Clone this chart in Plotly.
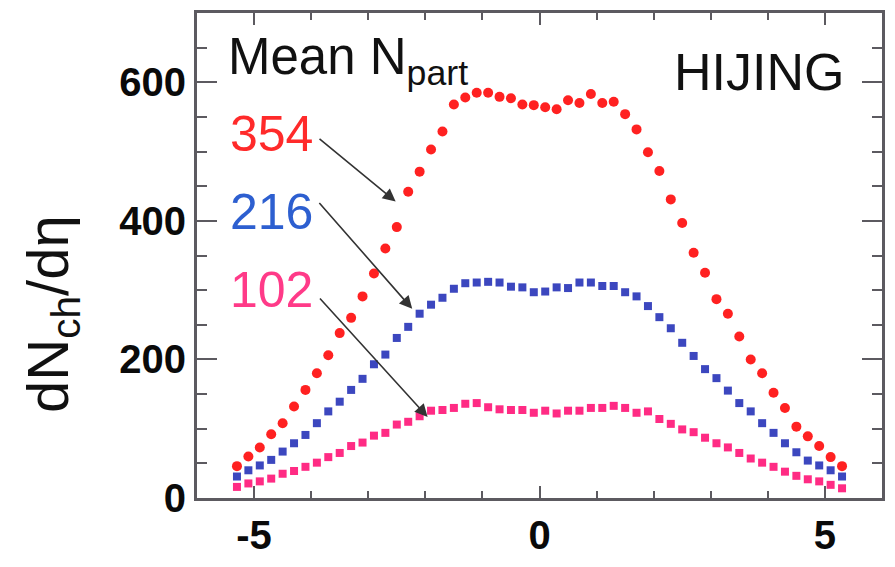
import plotly.graph_objects as go

eta = [-5.3, -5.1, -4.9, -4.7, -4.5, -4.3, -4.1, -3.9, -3.7, -3.5, -3.3, -3.1, -2.9, -2.7,
       -2.5, -2.3, -2.1, -1.9, -1.7, -1.5, -1.3, -1.1, -0.9, -0.7, -0.5, -0.3, -0.1,
       0.1, 0.3, 0.5, 0.7, 0.9, 1.1, 1.3, 1.5, 1.7, 1.9, 2.1, 2.3, 2.5, 2.7, 2.9, 3.1,
       3.3, 3.5, 3.7, 3.9, 4.1, 4.3, 4.5, 4.7, 4.9, 5.1, 5.3]

npart354 = [46, 60, 73, 92, 108, 132, 156, 180, 206, 238, 260, 291, 324, 360,
            391, 442, 471, 503, 529, 568, 578, 585, 585, 579, 577, 568, 567,
            564, 561, 574, 570, 583, 570, 572, 554, 532, 499, 472, 431, 397, 354, 325, 287,
            266, 233, 200, 180, 152, 130, 103, 89, 75, 59, 46]

npart216 = [31, 40, 47, 55, 67, 79, 91, 108, 125, 139, 156, 172, 193, 207,
            231, 247, 266, 279, 289, 302, 310, 311, 312, 311, 305, 304, 297,
            298, 304, 303, 311, 311, 306, 306, 297, 291, 277, 261, 245, 224, 205, 186, 173,
            155, 137, 125, 108, 94, 79, 66, 54, 47, 40, 31]

npart102 = [16, 21, 24, 28, 35, 39, 45, 51, 59, 65, 75, 80, 90, 94,
            106, 110, 118, 126, 127, 130, 136, 137, 131, 128, 127, 127, 123,
            126, 122, 126, 126, 130, 130, 133, 130, 123, 125, 114, 107, 99, 95, 87, 79,
            73, 65, 57, 51, 45, 38, 32, 27, 24, 19, 14]

x_ticks = [-5, 0, 5]
y_ticks = [0, 200, 400, 600]

FONT = "Liberation Sans, Arial, Helvetica, sans-serif"
AXC = "#5c5a60"

fig = go.Figure()
fig.add_trace(go.Scatter(x=eta, y=npart354, mode="markers",
                         marker=dict(color="#ff2121", size=10, symbol="circle"), name="354"))
fig.add_trace(go.Scatter(x=eta, y=npart216, mode="markers",
                         marker=dict(color="#3c47bf", size=8, symbol="square"), name="216"))
fig.add_trace(go.Scatter(x=eta, y=npart102, mode="markers",
                         marker=dict(color="#ff2b84", size=8, symbol="square"), name="102"))

axis_common = dict(showgrid=False, zeroline=False, showline=True, linecolor=AXC, linewidth=3,
                   mirror="ticks", ticks="inside", tickcolor=AXC, tickwidth=2,
                   tickfont=dict(family=FONT, size=40, color="#0a0a0a", weight="bold"))

fig.update_xaxes(range=[-6, 6], tickvals=x_ticks, ticktext=[str(v) for v in x_ticks],
                 ticklen=12, minor=dict(dtick=1, tick0=0, ticklen=7, tickwidth=2,
                                        tickcolor=AXC, ticks="inside"),
                 **axis_common)
fig.update_yaxes(range=[0, 700], tickvals=y_ticks, ticktext=[str(v) for v in y_ticks],
                 ticklen=20, minor=dict(dtick=50, tick0=0, ticklen=10, tickwidth=2,
                                        tickcolor=AXC, ticks="inside"),
                 **axis_common)

def txt(s, x, y, size, color, xanchor="left", yanchor="middle"):
    fig.add_annotation(text=s, x=x, y=y, xref="x", yref="y", showarrow=False,
                       xanchor=xanchor, yanchor=yanchor,
                       font=dict(family=FONT, size=size, color=color))

txt("Mean N<sub>part</sub>", -5.5, 632, 51, "#111")
txt("HIJING", 5.37, 615, 52, "#111", xanchor="right")
txt("354", -5.45, 526, 50, "#ff2a2a")
txt("216", -5.45, 413, 50, "#2d5fd0")
txt("102", -5.45, 300, 50, "#ff3a88")

arrows = [((-3.88, 520), (-2.52, 428)),
          ((-3.88, 428), (-2.23, 273)),
          ((-3.87, 290), (-1.96, 117))]
for (tx, ty), (hx, hy) in arrows:
    fig.add_annotation(x=hx, y=hy, ax=tx, ay=ty, xref="x", yref="y", axref="x", ayref="y",
                       text="", showarrow=True, arrowhead=2, arrowsize=1.6, arrowwidth=1.6,
                       arrowcolor="#333")

fig.add_annotation(text="dN<sub>ch</sub>/dη", xref="paper", yref="paper",
                   x=(52 - 197) / 685, y=(505 - 317) / 495.5, textangle=-90,
                   showarrow=False, xanchor="center", yanchor="middle",
                   font=dict(family=FONT, size=58, color="#111"))

fig.update_layout(width=895, height=567, margin=dict(l=197, r=13, t=10, b=62),
                  paper_bgcolor="white", plot_bgcolor="white", showlegend=False)

fig.write_html("out.html")
